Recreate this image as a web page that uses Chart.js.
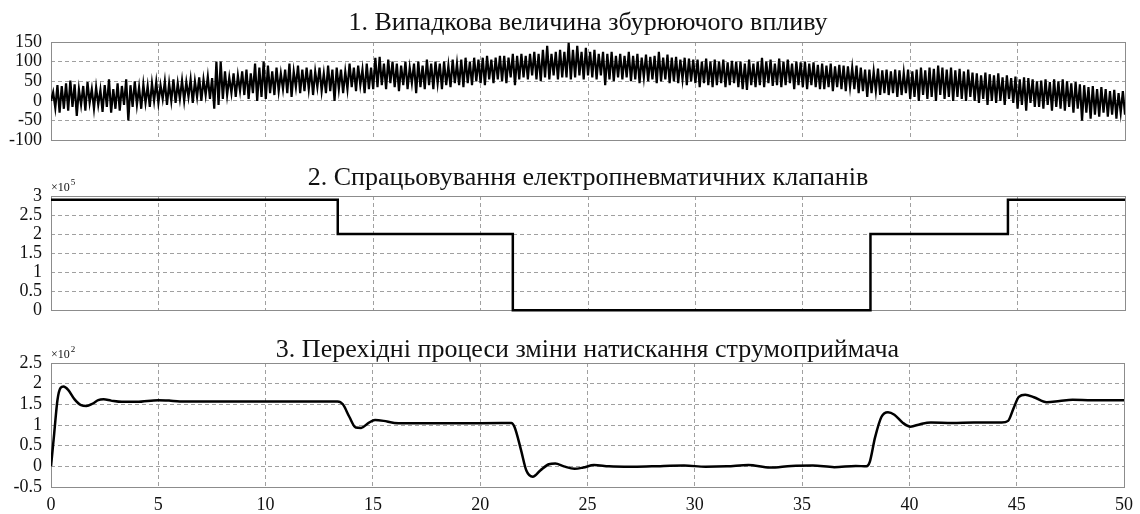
<!DOCTYPE html>
<html>
<head>
<meta charset="utf-8">
<script src="https://cdn.jsdelivr.net/npm/chart.js@4.4.1/dist/chart.umd.min.js"></script>
<style>
  body { margin: 0; background: #fff; }
  canvas { position: absolute; left: 0; }
</style>
</head>
<body>
<canvas id="c1" width="1140" height="160" style="top:0px"></canvas>
<canvas id="c2" width="1140" height="170" style="top:160px"></canvas>
<canvas id="c3" width="1140" height="184" style="top:330px"></canvas>
<script>
// titles of the three panels
const titles = [
    '1. Випадкова величина збурюючого впливу',
    '2. Спрацьовування електропневматичних клапанів',
    '3. Перехідні процеси зміни натискання струмоприймача'
];

// shared time axis ticks
const timeTicks = [0, 5, 10, 15, 20, 25, 30, 35, 40, 45, 50];

// panel 1: random disturbance, one sample every 0.1 s
const noiseStep = 0.1;
const noiseValues = [
    0, 22, -18, 40, -30, 38, -20, 45, -25, 52,
    -15, 42, -38, 30, -10, 38, -25, 48, -5, 30,
    -20, 35, -10, 28, -28, 40, -15, 55, -30, 30,
    -20, 45, -25, 38, -10, 55, -50, 40, -15, 50,
    -10, 35, -20, 42, -5, 38, -15, 45, 0, 48,
    -5, 40, 5, 50, -10, 45, 0, 55, -5, 45,
    5, 52, 0, 48, 10, 55, -5, 50, 10, 60,
    0, 55, 15, 62, 5, 58, -20, 100, -10, 100,
    5, 75, 15, 60, 20, 70, 10, 65, 25, 75,
    15, 80, 5, 70, 20, 95, 0, 85, 10, 100,
    5, 90, 20, 75, 15, 85, 25, 70, 30, 80,
    20, 95, 10, 75, 35, 90, 20, 80, 25, 85,
    30, 80, 15, 75, 35, 85, 25, 70, 20, 90,
    25, 80, 0, 85, 30, 80, 20, 75, 30, 95,
    35, 85, 25, 90, 40, 80, 20, 95, 30, 85,
    30, 110, 35, 112, 40, 95, 30, 105, 45, 100,
    35, 95, 25, 90, 40, 100, 30, 85, 45, 95,
    20, 100, 35, 90, 30, 105, 40, 95, 30, 100,
    45, 95, 30, 100, 40, 90, 35, 105, 45, 95,
    40, 105, 35, 110, 45, 100, 40, 110, 50, 105,
    45, 110, 40, 115, 55, 105, 45, 110, 55, 115,
    50, 115, 45, 110, 60, 120, 40, 115, 55, 120,
    60, 115, 55, 120, 65, 125, 55, 120, 50, 130,
    60, 140, 55, 120, 65, 125, 55, 130, 60, 125,
    60, 148, 55, 130, 60, 140, 65, 125, 55, 135,
    65, 125, 60, 130, 55, 120, 65, 125, 40, 120,
    55, 125, 50, 115, 60, 120, 55, 115, 60, 125,
    50, 115, 55, 120, 45, 110, 60, 118, 50, 112,
    55, 115, 45, 125, 50, 110, 55, 118, 45, 110,
    50, 112, 45, 105, 55, 110, 40, 108, 50, 105,
    45, 105, 35, 100, 45, 108, 40, 100, 35, 105,
    40, 100, 45, 105, 35, 98, 40, 102, 45, 100,
    35, 100, 30, 95, 28, 105, 40, 95, 35, 100,
    40, 110, 35, 100, 45, 105, 38, 95, 40, 108,
    35, 100, 40, 105, 45, 95, 30, 100, 40, 98,
    35, 100, 30, 95, 40, 98, 35, 92, 30, 95,
    30, 90, 35, 95, 25, 88, 35, 92, 30, 90,
    25, 88, 35, 85, 30, 90, 20, 85, 25, 80,
    10, 80, 20, 75, 25, 82, 15, 78, 20, 80,
    15, 75, 20, 80, 10, 78, 15, 72, 20, 80,
    5, 75, 10, 80, 0, 85, 15, 78, 5, 85,
    10, 82, 0, 90, 15, 85, 5, 80, 10, 85,
    0, 78, 10, 82, 5, 75, 0, 80, 10, 72,
    0, 70, -5, 65, 5, 72, -10, 68, 0, 65,
    -5, 70, 0, 60, -10, 65, 5, 58, -5, 62,
    -20, 55, -10, 60, -25, 58, -5, 55, -15, 50,
    -15, 52, -20, 55, -10, 48, -25, 55, -15, 50,
    -20, 55, -25, 50, -15, 45, -30, 48, -20, 42,
    -50, 40, -30, 35, -45, 38, -35, 30, -40, 35,
    -30, 30, -40, 25, -35, 28, -45, 20, -30, 25,
    -35
];
const noiseTicks = [-100, -50, 0, 50, 100, 150];

// panel 2: valve switching, step levels
const valveTimes = [0, 13.35, 21.5, 38.15, 44.55, 50];
const valveValues = [290000, 200000, 0, 200000, 290000, 290000];
const valveTicks = [0, 50000, 100000, 150000, 200000, 250000, 300000];

// panel 3: transient of contact force
const forceTimes = [
    0, 0.15, 0.3, 0.45, 0.58, 0.8, 1.1, 1.4, 1.65, 1.95, 2.2, 2.45, 2.8, 3.3, 4, 5, 5.5, 6,
    8, 10, 12, 13.35, 13.6, 13.9, 14.2, 14.45, 14.8, 15.1, 15.5, 16, 17, 19, 21, 21.45,
    21.6, 21.9, 22.15, 22.45, 22.8, 23.2, 23.5, 23.9, 24.4, 24.8, 25.3, 26, 27, 28, 29.5,
    30.5, 31.5, 32.5, 33.5, 34.5, 35.5, 36.5, 37.5, 38, 38.15, 38.4, 38.7, 39, 39.3, 39.7,
    40.05, 40.5, 41, 42, 43, 44.3, 44.6, 44.85, 45.1, 45.4, 45.8, 46.4, 47, 47.6, 48.5, 50
];
const forceValues = [
    0, 80, 160, 190, 193, 185, 162, 148, 146, 152, 160, 162, 159, 156, 156, 160, 159, 157,
    157, 157, 157, 157, 150, 120, 94, 93, 105, 112, 110, 105, 104, 104, 105, 105,
    95, 40, -10, -25, -10, 5, 7, 0, -6, -3, 3, 0, -1, 0, 2,
    -1, 0, 3, -3, 1, 2, -2, 1, 0, 10, 70, 120, 131, 125, 105,
    96, 102, 106, 105, 106, 106, 110, 140, 168, 173, 167, 155, 158, 161, 160, 160
];
const forceTicks = [-50, 0, 50, 100, 150, 200, 250];

const serif = "'Liberation Serif', 'Times New Roman', serif";

// frame, title and exponent label on every panel
const framePlugin = {
    id: 'frame',
    beforeDatasetsDraw(chart, args, opts) {
        const a = chart.chartArea, ctx = chart.ctx;
        ctx.save();
        ctx.strokeStyle = '#8c8c8c';
        ctx.lineWidth = 1;
        ctx.strokeRect(Math.round(a.left) + 0.5, Math.round(a.top) + 0.5,
            Math.round(a.right - a.left), Math.round(a.bottom - a.top));
        ctx.restore();
    },
    afterDraw(chart, args, opts) {
        const a = chart.chartArea, ctx = chart.ctx;
        ctx.save();
        ctx.fillStyle = '#111';
        ctx.font = '26px ' + serif;
        ctx.textAlign = 'center';
        ctx.textBaseline = 'alphabetic';
        ctx.fillText(opts.title, (a.left + a.right) / 2, opts.titleY);
        if (opts.exp) {
            ctx.textAlign = 'left';
            ctx.font = '12px ' + serif;
            ctx.fillText('\u00d710', a.left, a.top - 5);
            const w = ctx.measureText('\u00d710').width;
            ctx.font = '9px ' + serif;
            ctx.fillText(opts.exp, a.left + w + 1, a.top - 11);
        }
        ctx.restore();
    }
};

function makePanel(id, o) {
    return new Chart(document.getElementById(id), {
        type: 'line',
        data: { datasets: o.datasets },
        options: {
            responsive: false,
            animation: false,
            events: [],
            layout: { padding: { top: o.top, right: 15, left: 0, bottom: 0 } },
            plugins: {
                legend: { display: false },
                tooltip: { enabled: false },
                frame: { title: o.title, titleY: o.titleY, exp: o.exp }
            },
            scales: {
                x: {
                    type: 'linear', min: 0, max: 50,
                    afterBuildTicks: s => { s.ticks = timeTicks.map(v => ({ value: v })); },
                    afterFit: s => { s.height = o.xh; },
                    ticks: {
                        display: o.xLabels, padding: 7, color: '#111',
                        font: { family: serif, size: 18 },
                        callback: v => String(v), maxRotation: 0, autoSkip: false
                    },
                    grid: { color: '#a0a0a0', lineWidth: 1, drawTicks: false },
                    border: { display: false, dash: [4, 3] }
                },
                y: {
                    min: o.ymin, max: o.ymax,
                    afterBuildTicks: s => { s.ticks = o.yTicks.map(v => ({ value: v })); },
                    afterFit: s => { s.width = 51; },
                    ticks: {
                        padding: 9, color: '#111',
                        font: { family: serif, size: 18 },
                        callback: v => String(v / o.scale), autoSkip: false
                    },
                    grid: { color: '#a0a0a0', lineWidth: 1, drawTicks: false },
                    border: { display: false, dash: [4, 3] }
                }
            }
        },
        plugins: [framePlugin]
    });
}

makePanel('c1', {
    title: titles[0], titleY: 30, top: 42, xh: 8, xLabels: false,
    ymin: -100, ymax: 150, yTicks: noiseTicks, scale: 1,
    datasets: [{
        data: noiseValues.map((v, i) => ({ x: i * noiseStep, y: v })),
        borderColor: '#000', borderWidth: 2.2, pointRadius: 0, tension: 0
    }]
});

makePanel('c2', {
    title: titles[1], titleY: 25, top: 36, xh: 12, xLabels: false, exp: '5',
    ymin: 0, ymax: 300000, yTicks: valveTicks, scale: 100000,
    datasets: [{
        data: valveTimes.map((t, i) => ({ x: t, y: valveValues[i] })),
        borderColor: '#000', borderWidth: 2.5, pointRadius: 0, stepped: 'before', clip: 4
    }]
});

makePanel('c3', {
    title: titles[2], titleY: 27, top: 33, xh: 27, xLabels: true, exp: '2',
    ymin: -50, ymax: 250, yTicks: forceTicks, scale: 100,
    datasets: [{
        data: forceTimes.map((t, i) => ({ x: t, y: forceValues[i] })),
        borderColor: '#000', borderWidth: 2.5, pointRadius: 0, cubicInterpolationMode: 'monotone'
    }]
});
</script>
</body>
</html>
